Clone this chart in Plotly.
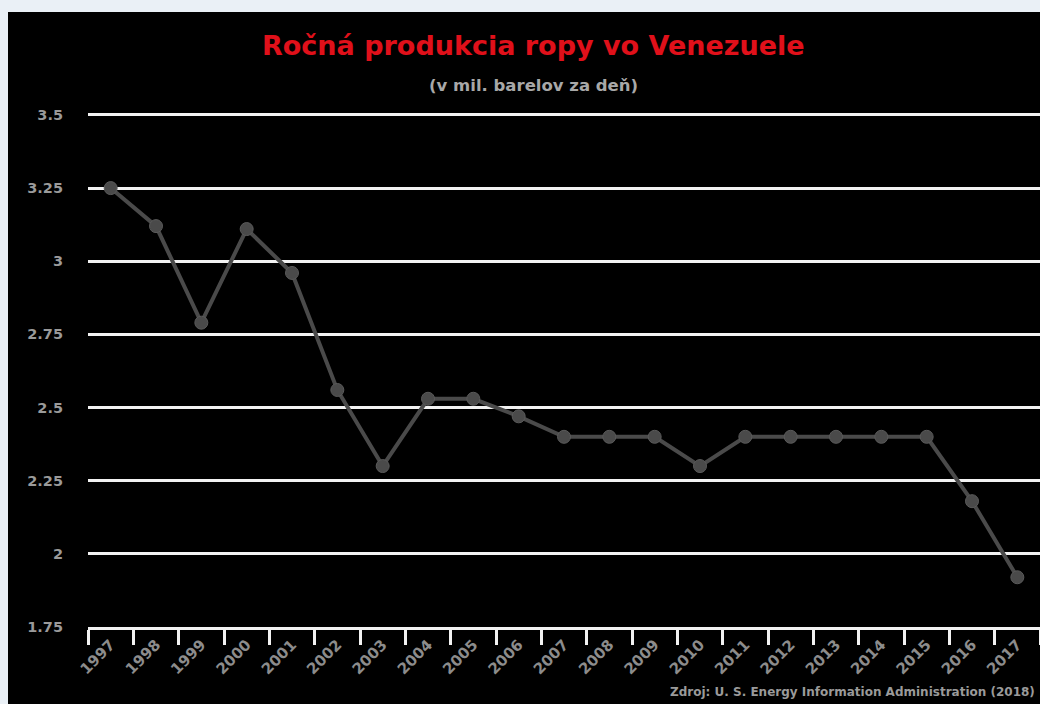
import plotly.graph_objects as go

years = ["1997", "1998", "1999", "2000", "2001", "2002", "2003", "2004", "2005", "2006",
         "2007", "2008", "2009", "2010", "2011", "2012", "2013", "2014", "2015", "2016", "2017"]
production = [3.25, 3.12, 2.79, 3.11, 2.96, 2.56, 2.30, 2.53, 2.53, 2.47,
              2.40, 2.40, 2.40, 2.30, 2.40, 2.40, 2.40, 2.40, 2.40, 2.18, 1.92]
y_ticks = [1.75, 2, 2.25, 2.5, 2.75, 3, 3.25, 3.5]
y_tick_labels = ["1.75", "2", "2.25", "2.5", "2.75", "3", "3.25", "3.5"]

title_text = "Ročná produkcia ropy vo Venezuele"
subtitle_text = "(v mil. barelov za deň)"
source_text = "Zdroj: U. S. Energy Information Administration (2018)"

W, H = 1040, 704
ML, MR, MT, MB = 88, 0, 112, 77
PW, PH = W - ML - MR, H - MT - MB

def px_x(px):
    return (px - ML) / PW

def px_y(py):
    return (H - MB - py) / PH

FONT = "DejaVu Sans"

fig = go.Figure()
fig.add_trace(go.Scatter(
    x=years, y=production, mode="lines+markers",
    line=dict(color="#4a4a4a", width=4),
    marker=dict(color="#4a4a4a", size=13, line=dict(color="#5a5a5a", width=1)),
    showlegend=False, cliponaxis=False,
))

fig.update_layout(
    width=W, height=H, autosize=False,
    margin=dict(l=ML, r=MR, t=MT, b=MB, pad=0),
    paper_bgcolor="#eaf0f6",
    plot_bgcolor="#000000",
    shapes=[dict(type="rect", xref="paper", yref="paper",
                 x0=px_x(8), x1=px_x(W + 10), y0=px_y(H + 10), y1=px_y(12),
                 fillcolor="#000000", line=dict(width=0), layer="below")],
    xaxis=dict(
        type="category", range=[-0.5, len(years) - 0.5],
        showgrid=False, zeroline=False,
        showline=True, linecolor="#f2f2f2", linewidth=3,
        ticks="outside", ticklen=15, tickwidth=3, tickcolor="#f2f2f2",
        tickson="boundaries", tickangle=-45,
        tickfont=dict(family=FONT, size=15, color="#8c8c8c", weight="bold"),
    ),
    yaxis=dict(
        range=[1.75, 3.51], tickvals=y_ticks, ticktext=y_tick_labels,
        showgrid=True, gridcolor="#f2f2f2", gridwidth=3,
        zeroline=False, showline=False, ticks="",
        ticklabelstandoff=24,
        tickfont=dict(family=FONT, size=14.5, color="#9a9a9a", weight="bold"),
    ),
    annotations=[
        dict(text=title_text, xref="paper", yref="paper", x=px_x(533), y=px_y(45),
             xanchor="center", yanchor="middle", showarrow=False,
             font=dict(family=FONT, size=27, color="#e0101a", weight="bold")),
        dict(text=subtitle_text, xref="paper", yref="paper", x=px_x(533), y=px_y(85),
             xanchor="center", yanchor="middle", showarrow=False,
             font=dict(family=FONT, size=16.5, color="#a8a8a8", weight="bold")),
        dict(text=source_text, xref="paper", yref="paper", x=px_x(668), y=px_y(692),
             xanchor="left", yanchor="middle", showarrow=False,
             font=dict(family=FONT, size=12, color="#9a9a9a", weight="bold")),
    ],
)

fig.write_html("out.html", config={"displayModeBar": False},
               post_script="document.body.style.margin='0';document.body.style.overflow='hidden';")
